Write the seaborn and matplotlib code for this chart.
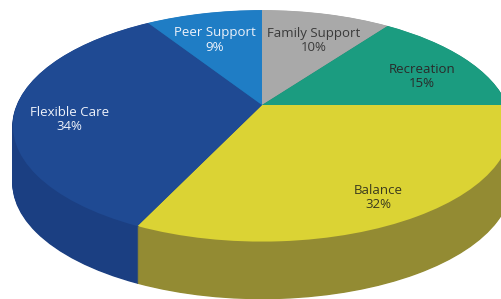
import numpy as np
import matplotlib.pyplot as plt
import seaborn as sns
from matplotlib.transforms import Transform, offset_copy

# slices, clockwise starting at 12 o'clock
labels = ['Family Support', 'Recreation', 'Balance', 'Flexible Care', 'Peer Support']
shares = [10, 15, 32, 34, 9]

top_colors = ['#a9a9a9', '#1b9c80', '#dbd334', '#1f4a93', '#1f7dc5']
side_colors = ['#8a8a8a', '#157d66', '#938b33', '#1b3f82', '#1a66a3']
text_colors = ['#3a3a3a', '#2a2a2a', '#3a3a1e', '#eef2fa', '#eef2fa']

# where the flat unit pie lands on the 502x299 canvas
CX, CY = 262, 105      # pie centre in pixels
SX, SY = 245, 112      # horizontal / vertical radius
K = 0.18               # perspective: back half shrinks, front half grows
DEPTH = 57             # thickness of the disc in pixels


class Tilt(Transform):
    """unit-circle pie coords -> pixel coords, seen from above at an angle"""
    input_dims = output_dims = 2

    def __init__(self, drop=0.0):
        super().__init__()
        self.drop = drop

    def transform_non_affine(self, xy):
        xy = np.asarray(xy, dtype=float)
        u, v = xy[:, 0], xy[:, 1]
        w = 1 + K * v
        return np.column_stack([CX + SX * u / w, CY - SY * v / w + self.drop])


sns.set_style('white')
plt.rcParams['font.family'] = ['Open Sans', 'DejaVu Sans']

fig = plt.figure(figsize=(5.02, 2.99), dpi=100)
ax = fig.add_axes([0, 0, 1, 1])

# side wall: a stack of darker pies, the top face covers all but the front
for d in range(DEPTH, 0, -1):
    wedges, _ = ax.pie(shares, colors=side_colors, startangle=90, counterclock=False,
                       wedgeprops=dict(linewidth=1))
    for w in wedges:
        w.set_edgecolor(w.get_facecolor())
        w.set_transform(Tilt(d) + ax.transData)

# top face with the labels
wedges, texts = ax.pie(shares, colors=top_colors, startangle=90, counterclock=False,
                       labels=[f'{n}\n{p}%' for n, p in zip(labels, shares)],
                       labeldistance=0.78, wedgeprops=dict(linewidth=0),
                       textprops=dict(fontsize=9.5))
for w in wedges:
    w.set_transform(Tilt() + ax.transData)
# labels sit a little below the radial spot in the original
label_trans = offset_copy(Tilt() + ax.transData, fig=fig, x=0, y=-9, units='dots')
for t, c in zip(texts, text_colors):
    t.set_transform(label_trans)
    t.set_ha('center')
    t.set_va('center')
    t.set_color(c)
    t.set_linespacing(1.15)

ax.set_aspect('auto')
ax.set_xlim(0, 502)
ax.set_ylim(299, 0)
ax.axis('off')

fig.savefig('out.png', dpi=100, facecolor='white')
